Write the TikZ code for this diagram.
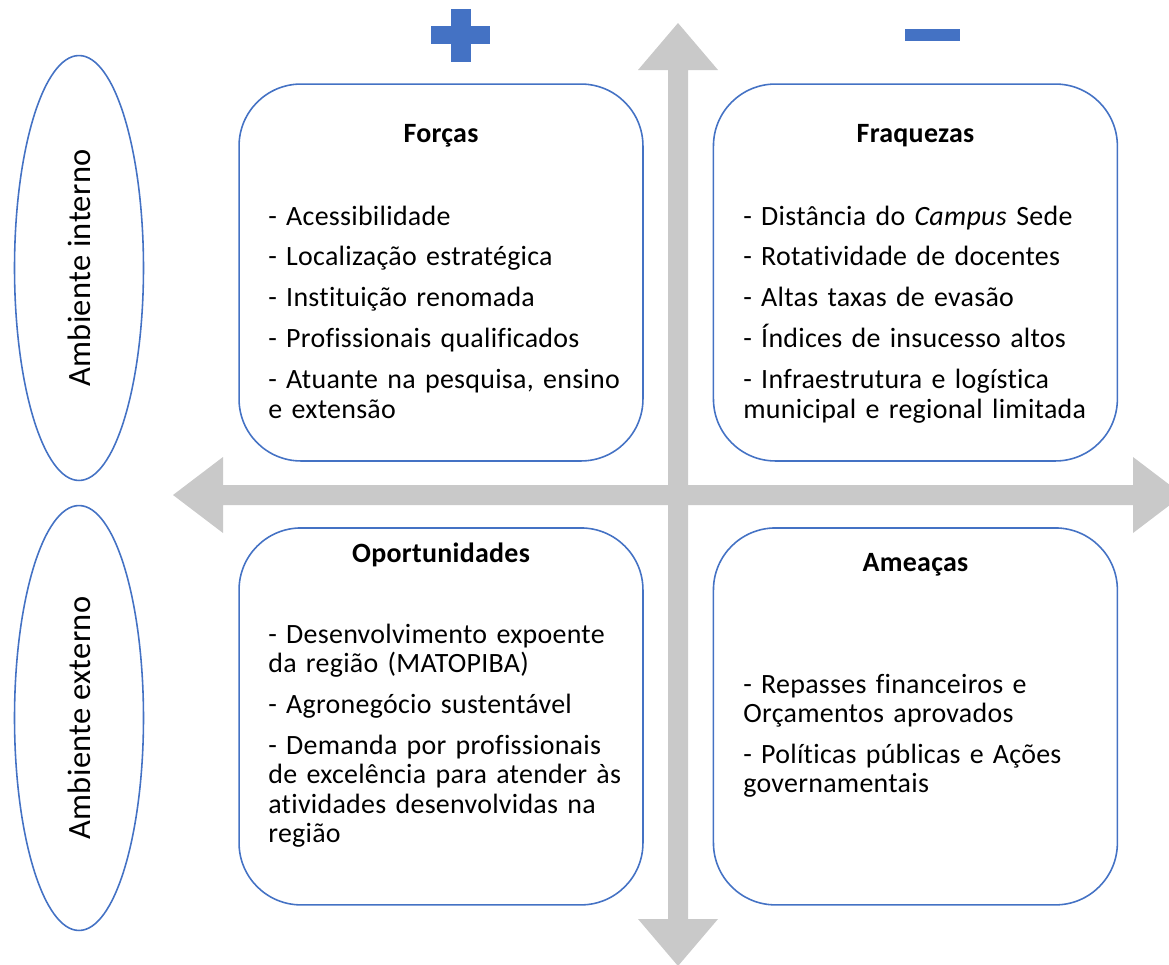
\documentclass[tikz,border=0pt]{standalone}
\usepackage{fontspec}
\setmainfont{Carlito}[Ligatures=NoCommon, LetterSpace=1]
\usepackage{tikz}
\usetikzlibrary{shapes.geometric}
\definecolor{swotblue}{RGB}{68,114,196}
\definecolor{axisgray}{RGB}{201,201,201}
\newcommand{\nextitem}{\\[6.5pt]}
\tikzstyle{quad} = [rectangle, rounded corners=1.24cm, minimum width=8.08cm, minimum height=7.54cm, draw=swotblue, line width=0.9pt]
\tikzstyle{envbox} = [ellipse, rotate=90, minimum width=8.5cm, minimum height=2.58cm, inner sep=0pt, draw=swotblue, line width=0.9pt, font=\fontsize{18.5}{20}\selectfont]
\tikzstyle{heading} = [anchor=base, inner sep=0pt, font=\fontsize{15.9}{16.8}\selectfont\bfseries]
\tikzstyle{items} = [anchor=base west, inner sep=0pt, text width=7.4cm, align=left, font=\fontsize{15.9}{16.8}\selectfont]
\tikzstyle{axisbar} = [fill=axisgray]
\tikzstyle{sign} = [fill=swotblue]

\begin{document}
\begin{tikzpicture}[x=0.02cm, y=-0.02cm, node distance=8.88cm]
	\useasboundingbox (0,0) rectangle (1169,964);

	\fill [axisbar] (668,70) -- (638,70) -- (678,23) -- (718,70) -- (688,70) -- (688,919) -- (718,919) -- (678,966) -- (638,919) -- (668,919) -- cycle;
	\fill [axisbar] (223,485) -- (223,457) -- (173,495) -- (223,533) -- (223,505) -- (1133,505) -- (1133,533) -- (1183,495) -- (1133,457) -- (1133,485) -- cycle;

	\fill [sign] (431,26) rectangle (490,44);
	\fill [sign] (451,9) rectangle (471,62);
	\fill [sign] (905,29) rectangle (960,41);

	\node (interno) [envbox] at (79,268) {Ambiente interno};
	\node (externo) [envbox] at (79,718) {Ambiente externo};

	\node (forcas) [quad] at (441,272.5) {};
	\node (fraquezas) [quad, right of=forcas, node distance=9.49cm] {};
	\node (oportunidades) [quad, below of=forcas] {};
	\node (ameacas) [quad, below of=fraquezas] {};

	\node (forcastitle) [heading] at (441,142) {Forças};
	\node (fraquezastitle) [heading] at (915.5,142) {Fraquezas};
	\node (oportunidadestitle) [heading] at (441,562) {Oportunidades};
	\node (ameacastitle) [heading] at (915.5,571) {Ameaças};

	\node (forcaslist) [items] at (268,225) {- Acessibilidade\nextitem - Localização estratégica\nextitem - Instituição renomada\nextitem - Profissionais qualificados\nextitem - Atuante na pesquisa, ensino\\ e extensão};
	\node (fraquezaslist) [items] at (743,225) {- Distância do \textit{Campus} Sede\nextitem - Rotatividade de docentes\nextitem - Altas taxas de evasão\nextitem - Índices de insucesso altos\nextitem - Infraestrutura e logística\\ municipal e regional limitada};
	\node (oportunidadeslist) [items] at (268,643) {- Desenvolvimento expoente\\ da região (MATOPIBA)\nextitem - Agronegócio sustentável\nextitem - Demanda por profissionais\\ de excelência para atender às\\ atividades desenvolvidas na\\ região};
	\node (ameacaslist) [items] at (743,693) {- Repasses financeiros e\\ Orçamentos aprovados\nextitem - Políticas públicas e Ações\\ governamentais};
\end{tikzpicture}
\end{document}
